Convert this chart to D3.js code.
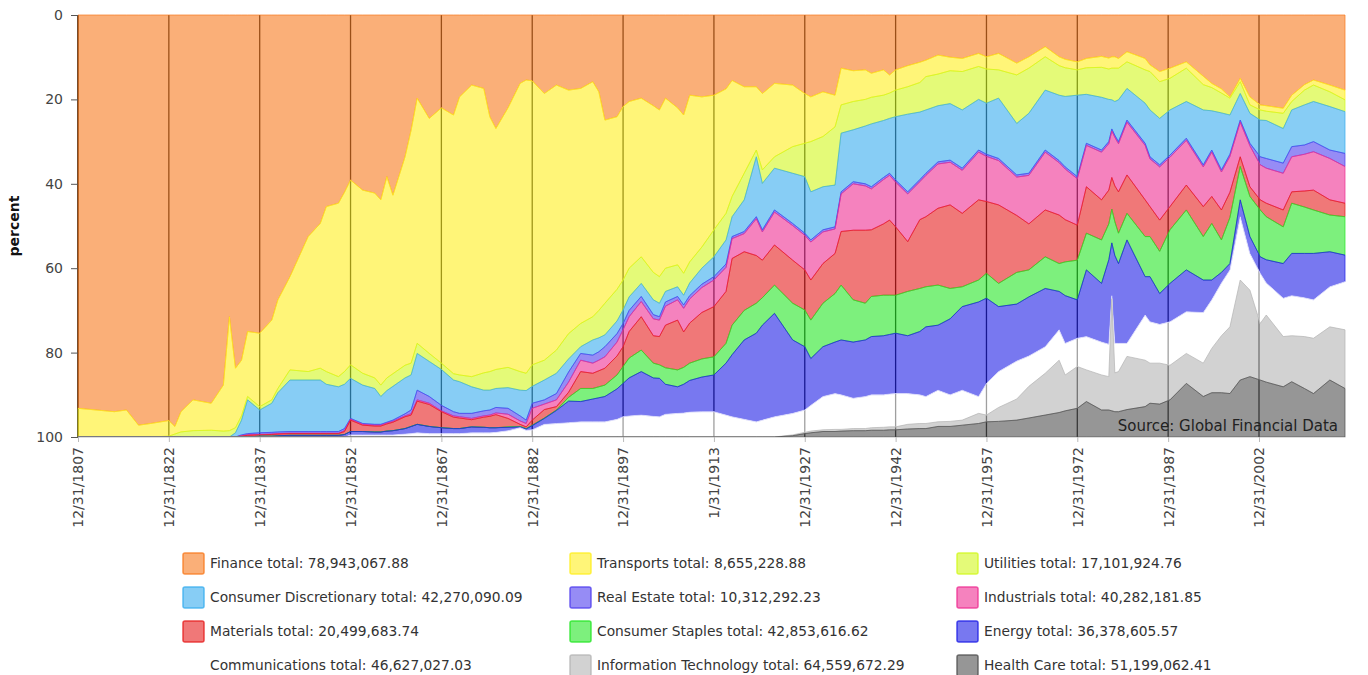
<!DOCTYPE html>
<html>
<head>
<meta charset="utf-8">
<script src="https://cdn.jsdelivr.net/npm/d3@7"></script>
<style>
  body { margin: 0; background: #fff; }
  svg { display: block; font-family: Verdana, "DejaVu Sans", sans-serif; }
</style>
</head>
<body>
<div id="chart"></div>
<script>
// --- data: share of each sector (percent) ---
const years = [1807,1810,1813,1815,1817,1819,1822,1823,1824,1826,
  1829,1831,1832,1833,1834,1835,1837,1839,1840,1842,
  1845,1847,1848,1850,1851,1852,1854,1856,1857,1858,
  1859,1861,1862,1863,1865,1867,1869,1870,1872,1874,
  1875,1876,1878,1880,1881,1882,1884,1886,1888,1890,
  1892,1893,1894,1896,1897,1898,1900,1902,1903,1904,
  1906,1907,1908,1910,1912,1914,1915,1917,1919,1920,
  1922,1925,1927,1928,1930,1932,1933,1935,1937,1938,
  1940,1941,1942,1944,1946,1947,1949,1951,1953,1955.7,
  1957,1959,1962,1964,1966.7,1969,1970,1972,1973.5,1976,
  1977.2,1977.7,1978.2,1978.8,1980.2,1983.2,1984,1985.6,1987.3,1990,
  1992.8,1994.2,1995.8,1997.2,1998.9,2000.5,2002.2,2003.2,2006,2007.4,
  2009.5,2011,2013.7,2016.2];

const finance = [93.2,93.6,94,93.6,97.2,96.8,96.1,97.5,94,91.2,
  92,87.7,71.5,83.7,81.8,75,75.4,72.3,67.5,62,
  52.5,49.4,45.4,44.6,42,39.1,41.5,42.2,43.8,38.3,
  42.7,33.6,27.3,19.7,24.5,22,23.7,19.4,16.6,17.4,
  24.1,26.9,22,16.2,15.4,15.6,18.6,16.6,17.8,17.4,
  15.8,18.2,24.9,24.1,21.7,20.5,19.7,21.5,22.5,19.7,
  22,23.7,19,19.4,19,17.5,15.5,17,17,18.6,
  16.2,16.6,18.6,19.4,18.2,19,12.6,13.2,13,13.8,
  13,14.2,13,12,11.2,10.7,9.5,10,10.3,9.1,
  9.9,9.1,11.4,9.9,7.5,9.9,10.5,11.1,10.3,9.8,
  10.2,9.9,9.9,10.3,8.7,10.3,11.8,13.4,12.6,11.1,
  14.5,16.2,17.5,19.4,15,19.4,21.3,21.5,22.1,19,
  16.5,15.4,16.6,17.8];

const transports = [6.8,6.4,6,6.4,2.8,3.2,3.7,1.8,4.8,7.3,
  6.4,10.9,27,14.1,13.2,15.4,17.4,18.9,21,22.1,
  32,34.3,39.1,41.1,42.5,43.8,43.4,43.8,43.9,47.7,
  42.3,49.4,55.2,58.1,55.7,60.5,61.3,65.9,69.1,67.4,
  60.4,57.1,61.5,68.3,69.5,67.3,63.2,62.8,57.7,55.7,
  55.7,51.8,43.4,40.9,41.1,39.5,37.6,39.5,39.5,40.3,
  37.2,37.5,39.5,35.6,31.9,29.5,27.5,20.5,15,18.1,
  17.4,14.6,11.8,10.6,10.6,7.5,8.7,7.3,7,5.7,
  6,4.3,4.8,5,4.8,3.9,4.5,3.2,3.1,3.1,
  2.9,3.9,2.8,2.7,2.4,2.1,2,1.9,2.2,2.6,
  2.6,2.7,2.7,2.3,2.4,2.7,1.6,2.4,2.4,1.5,
  2,1,1,0.3,0.8,1.9,1.2,1.3,1.2,1.5,
  1.3,1.2,1.6,2.3];

const utilities = [0,0,0,0,0,0,0.2,0.7,1.2,1.5,
  1.6,1.4,1.5,1.2,1,0.8,0.8,0.8,1,2.4,
  2,2.8,3,2.4,3,3.2,2.8,2.5,2.7,3,
  3,3,2.8,2.4,1.9,1.5,1.5,1.6,2.4,4.1,
  4.4,4.5,4.8,4.4,4.1,5.1,4.7,5.5,6,5.5,
  5.5,6.5,7.5,7.5,7.1,6.8,6.3,6.5,6.3,5.5,
  5.2,5.2,5,5,6.4,6.3,4.8,6.3,1.6,3.2,
  2.7,6.3,7.9,11.9,11.9,13.8,6.7,6.7,6.3,6.3,
  6,6,6.3,6.5,7,7.9,7.5,7.8,9.1,7.8,
  8.1,6.7,11.5,10.7,7.9,7,6.8,6,6.3,7.1,
  7.2,7.5,7.9,7.5,6.3,7.9,9.1,8.7,7.5,7.9,
  6,5.5,4.7,4,2.8,2,2.4,2.2,3.6,2,
  3.5,3.9,3.5,2.8];

const consumerDiscretionary = [0,0,0,0,0,0,0,0,0,0,
  0,0,0,1,3.5,8,5.4,6.9,9.3,12.2,
  12.2,12.2,11.2,10.6,10.5,9.5,9.1,8.5,6.6,7.5,
  8,8.5,8.3,8.7,8.3,8.5,7.5,7.5,6.3,4.9,
  4.7,4.5,4.9,6.1,7,4,4.7,4.8,3.1,1.6,
  3.6,3.3,2.8,3,3.2,3.2,3.1,3.5,3.2,2.5,
  2.3,2.3,3,3.8,4.7,5.7,4.7,7.5,14.2,11,
  9.9,11.9,13.4,11.4,10.2,9.9,13.9,12.3,13.7,14.9,
  13.5,13,15,18.4,16,15,13.3,13.4,13.8,12,
  12.1,14.3,12.2,14.2,14.2,15.5,16.7,19.3,11.6,12.5,
  10,6.9,8,9.9,7.5,9.5,11.1,11,10.7,8.7,
  13,9.3,13.5,9.3,6.3,7.1,8.7,9,8.2,8.7,
  9.5,9.5,10.3,9.9];

const realEstate = [0,0,0,0,0,0,0,0,0,0,
  0,0,0,0,0.2,0.3,0.4,0.4,0.4,0.4,
  0.4,0.4,0.4,0.4,0.5,0.2,0.2,0.2,0.2,0.2,
  0.3,0.5,0.9,2.3,1.6,1.3,1,0.8,1.2,1.2,
  1.2,1.3,1.4,1.2,0.8,1.2,1,1.5,2.4,1.6,
  1.9,2,2.4,2,1.5,1.5,1.2,1,0.8,1,
  0.8,0.8,0.8,0.8,0.8,0.8,0.5,0.5,0.5,0.5,
  0.5,0.5,0.5,0.5,0.5,0.5,0.5,0.5,0.5,0.5,
  0.5,0.5,0.5,0.5,0.5,0.5,0.5,0.5,0.5,0.5,
  0.5,0.5,0.5,0.5,0.5,0.5,0.5,0.5,0.5,0.5,
  0.5,0.5,0.5,0.5,0.5,0.5,0.5,0.5,0.5,0.5,
  0.5,0.5,0.5,0.5,0.5,0.6,1.9,2.3,2.4,2.4,
  2.2,2.4,2,3.1];

const industrials = [0,0,0,0,0,0,0,0,0,0,
  0,0,0,0,0.1,0.1,0.1,0.1,0.1,0.1,
  0.1,0.1,0.1,0.1,0.2,0.2,0.2,0.2,0.2,0.2,
  0.2,0.2,0.3,0.3,0.3,0.2,0.3,0.3,0.3,0.3,
  0.3,0.4,1,0.8,0.8,2.8,1.3,1.6,2.4,2.7,
  2.4,2.5,2.7,3.3,4,3.5,3.6,4,3.9,4.5,
  4.8,5.6,5.7,5.9,6.3,5.7,4.7,4.3,8.7,6.7,
  7.8,8.2,8.2,9,7.5,5.8,8.9,11,10.5,9.7,
  10.5,10.6,10.6,11.3,9,9.8,10.5,10.1,10.2,11.3,
  10.7,10.5,9.1,11.5,13.7,12.4,12,11,9.8,11.3,
  11,11,11.5,11.4,12.5,12.9,11.3,12.6,11.7,10.6,
  9.4,10.5,9,8.5,8.2,9.7,8.3,8.3,8.7,8.3,
  8.7,9.1,9.8,8.7];

const materials = [0,0,0,0,0,0,0,0,0,0,
  0,0,0,0,0.2,0.4,0.3,0.4,0.4,0.4,
  0.4,0.4,0.4,0.4,0.7,2.7,1.5,1.4,1.4,1.7,
  2,2.8,2.7,5.5,5.2,3.8,2.7,2.5,1.7,2.4,
  2.7,3.1,2,0.5,0.4,1.2,2,0.8,1.2,4,
  3.6,3.8,4,4.5,4.7,6.3,7.9,6.5,6.7,10.1,
  11.8,8.4,9.5,11,11.9,12.3,15.8,13.9,11.3,8.9,
  9.5,10.2,9.5,9.5,9.4,9.5,12.7,16.5,17.3,15.8,
  16.9,17.8,16.2,11.8,16.3,16.6,18.2,19.8,17.4,19,
  17,18.6,13.5,10.9,11.1,11.5,10,8.3,11,9.5,
  8,7.5,8.5,9.8,9.1,8.7,7.1,7.4,5.5,5.9,
  7.1,6.4,7.1,6,2.3,2.3,2.4,3.2,4,2.7,
  3.8,4.7,3.6,3.2];

const consumerStaples = [0,0,0,0,0,0,0,0,0,0,
  0,0,0,0,0,0,0,0,0,0,
  0,0,0,0,0,0,0,0,0,0,
  0,0,0,0,0,0,0,0,0,0,
  0,0,0.1,0.1,0.1,0.1,0.1,0.1,0.9,3.1,
  2.5,2.6,2.7,3.3,4,4.7,5.1,3.5,3.2,3.9,
  4,4,4.1,4.3,4.3,4.7,7,7,7.1,6.5,
  6.7,8.7,8.7,9.1,10.3,11.5,13,10,8.7,9.5,
  9.6,9.3,9,10.5,10.2,9.5,9.5,7.2,4.7,5.2,
  5.9,5.5,7.5,6.4,7.5,6.6,8,9.4,8.7,10.3,
  8.5,8,8,7.2,6.3,9.5,9.5,10,12.7,14.2,
  10.3,13.4,7.7,10.9,7.9,9.5,11.1,10.2,8.7,11.9,
  11,10.3,8.7,9.1];

const energy = [0,0,0,0,0,0,0,0,0,0,
  0,0,0,0,0,0,0.2,0.2,0.3,0.4,
  0.4,0.4,0.4,0.4,0.6,0.8,0.8,0.7,0.7,0.9,
  1,1.3,1.7,2,1.7,1.4,1.2,1.2,1.4,1.3,
  1.2,1.1,0.8,0.2,0.3,1,1.4,3.1,5.1,4.8,
  5.4,5.7,6,7.2,7.9,9,10.3,9.1,9.1,7.1,
  6.3,6.8,7.5,8.2,8.7,12.3,14.7,18.8,21,22.5,
  24.5,17.4,15,11.1,11.8,12.2,13,13.3,13.4,13.8,
  14,14.1,14.3,13.7,15,16.5,15.4,18,19.8,22.4,
  20.2,15.4,13.5,14,13.8,9.1,11.3,9.1,15.8,13.9,
  20,12.5,20.8,18.9,24.5,9.1,10.7,7.3,9.1,9.9,
  7.7,4.7,2.5,1.5,4,4,3.9,5.5,8.2,10,
  10.5,11,8.3,6.3];

const communications = [0,0,0,0,0,0,0,0,0,0,
  0,0,0,0,0,0,0,0,0,0,
  0,0,0,0,0,0.5,0.5,0.5,0.5,0.5,
  0.5,0.7,0.8,1,0.8,0.8,0.8,0.8,1,1,
  1,1.1,1.5,2.2,1.6,1.7,3,3.2,3.4,3.6,
  3.6,3.6,3.6,4.2,4.8,5,5.2,4.9,4.8,5.4,
  5.6,5.7,5.9,6,6,5.2,4.8,4.2,3.6,4,
  4.8,5.1,5.3,6.1,7.9,8.5,8.2,7.2,7.6,7.8,
  7.7,7.8,7.9,7.3,6.8,6.4,7.5,6.3,7.1,4,
  7.5,8.5,9,7.2,6.3,7.2,7.5,6.7,7.9,7.8,
  7.7,0.7,7,6.7,3.1,10.7,9.8,9.2,10.3,9.9,
  12,11.5,12.5,13.5,15,8.7,11.9,7.6,9.1,9.5,
  9.2,9.1,9.5,11.4];

const informationTechnology = [0,0,0,0,0,0,0,0,0,0,
  0,0,0,0,0,0,0,0,0,0,
  0,0,0,0,0,0,0,0,0,0,
  0,0,0,0,0,0,0,0,0,0,
  0,0,0,0,0,0,0,0,0,0,
  0,0,0,0,0,0,0,0,0,0,
  0,0,0,0,0,0,0,0,0,0,
  0,0.2,0.3,0.4,0.4,0.5,0.4,0.5,0.5,0.6,
  0.7,0.7,0.7,1.1,1.2,1.2,1.1,1.2,1.2,2.4,
  1.6,3.3,5,7.5,9.9,12.4,8.5,9.9,7.5,8.3,
  7.9,26.6,9.2,9.5,12.6,11,9.5,9.7,8.2,7.1,
  7.9,10.5,13.5,15.8,23.7,20.5,13.4,15.9,11.9,10.9,
  12.3,13.1,12.6,13.9];

const healthCare = [0,0,0,0,0,0,0,0,0,0,
  0,0,0,0,0,0,0,0,0,0,
  0,0,0,0,0,0,0,0,0,0,
  0,0,0,0,0,0,0,0,0,0,
  0,0,0,0,0,0,0,0,0,0,
  0,0,0,0,0,0,0,0,0,0,
  0,0,0,0,0,0,0,0,0,0,
  0,0.3,0.8,1,1.3,1.3,1.4,1.5,1.5,1.6,
  1.6,1.7,1.7,1.9,2,2,2.5,2.5,2.8,3.2,
  3.6,3.7,4,4.5,5.2,5.8,6.2,6.8,8.4,6.4,
  6.4,6.2,6,6,6.5,7.2,8,7.8,8.8,12.7,
  9.6,10.5,10.5,10.3,13.5,14.3,13.5,13,11.9,13.1,
  11.5,10.3,13.5,11.5];

// sector names (top of the stack first) and their legend totals
const sectorNames = ["Finance", "Transports", "Utilities", "Consumer Discretionary",
  "Real Estate", "Industrials", "Materials", "Consumer Staples", "Energy",
  "Communications", "Information Technology", "Health Care"];
const sectorTotals = ["78,943,067.88", "8,655,228.88", "17,101,924.76", "42,270,090.09",
  "10,312,292.23", "40,282,181.85", "20,499,683.74", "42,853,616.62", "36,378,605.57",
  "46,627,027.03", "64,559,672.29", "51,199,062.41"];
const sectorValues = [finance, transports, utilities, consumerDiscretionary,
  realEstate, industrials, materials, consumerStaples, energy,
  communications, informationTechnology, healthCare];

// x ticks: positions (year) and the labels shown under them
const tickYears = [1807, 1822, 1837, 1852, 1867, 1882, 1897, 1912, 1927, 1942, 1957, 1972, 1987, 2002];
const tickLabels = ["12/31/1807", "12/31/1822", "12/31/1837", "12/31/1852", "12/31/1867",
  "12/31/1882", "12/31/1897", "1/31/1913", "12/31/1927", "12/31/1942", "12/31/1957",
  "12/31/1972", "12/31/1987", "12/31/2002"];
const yTicks = [0, 20, 40, 60, 80, 100];

// --- styles ---
const COLORS = ["#f7791e", "#ffee1e", "#d2f71e", "#37acee", "#503fee", "#ee2f93",
  "#e61e1e", "#26e626", "#1e1ee6", "#ffffff", "#b4b4b4", "#505050"];
const FILL_OPACITY = 0.6;
const FONT = 'Verdana, "DejaVu Sans", sans-serif';

const width = 1368, height = 675;
const margin = { top: 15, right: 23, bottom: 238, left: 78 };

const svg = d3.select("#chart").append("svg")
  .attr("width", width).attr("height", height);

const x = d3.scaleLinear().domain([1807, 2016.2]).range([margin.left, width - margin.right]);
const y = d3.scaleLinear().domain([0, 100]).range([margin.top, height - margin.bottom]);

// rows for d3.stack
const keys = sectorNames.map((n, i) => "s" + i);
const rows = years.map((yr, i) => {
  const r = { year: yr };
  keys.forEach((k, j) => r[k] = sectorValues[j][i]);
  return r;
});
const layers = d3.stack().keys(keys)(rows);

// vertical grid lines (behind the translucent areas)
svg.append("g").selectAll("line").data(tickYears).join("line")
  .attr("x1", d => x(d)).attr("x2", d => x(d))
  .attr("y1", y(0)).attr("y2", y(100))
  .attr("stroke", "#111").attr("stroke-width", 1.3);

// y axis line
svg.append("line")
  .attr("x1", margin.left).attr("x2", margin.left)
  .attr("y1", y(0)).attr("y2", y(100))
  .attr("stroke", "#222").attr("stroke-width", 1.5);

const area = d3.area()
  .x(d => x(d.data.year))
  .y0(d => y(d[0]))
  .y1(d => y(d[1]));

svg.append("g").selectAll("path").data(layers).join("path")
  .attr("d", area)
  .attr("fill", (d, i) => COLORS[i])
  .attr("fill-opacity", FILL_OPACITY)
  .attr("stroke", (d, i) => COLORS[i])
  .attr("stroke-opacity", 0.7)
  .attr("stroke-width", 1);

// y axis ticks and labels
const yAxis = svg.append("g")
  .attr("transform", `translate(${margin.left},0)`)
  .call(d3.axisLeft(y).tickValues(yTicks).tickSize(7).tickSizeOuter(0).tickPadding(8));
yAxis.select(".domain").remove();
yAxis.selectAll(".tick line").attr("stroke", "#555");
yAxis.selectAll(".tick text").attr("fill", "#444").style("font-size", "14px")
  .style("font-family", FONT);

svg.append("text")
  .attr("transform", `translate(19,${(y(0) + y(100)) / 2}) rotate(-90)`)
  .attr("text-anchor", "middle")
  .attr("fill", "#111")
  .style("font-size", "14px").style("font-weight", "bold")
  .text("percent");

// x axis with rotated date labels
const xAxis = svg.append("g")
  .attr("transform", `translate(0,${y(100)})`)
  .call(d3.axisBottom(x).tickValues(tickYears).tickFormat((d, i) => tickLabels[i])
    .tickSize(5).tickSizeOuter(0));
xAxis.select(".domain").attr("stroke", "#ddd");
xAxis.selectAll(".tick line").attr("stroke", "#bbb");
xAxis.selectAll(".tick text")
  .attr("transform", "rotate(-90)")
  .attr("text-anchor", "end")
  .attr("x", -10).attr("y", 0).attr("dy", "0.35em")
  .attr("fill", "#444")
  .style("font-size", "14px")
  .style("font-family", FONT);

// source note
svg.append("text")
  .attr("x", 1338).attr("y", 431)
  .attr("text-anchor", "end")
  .attr("fill", "#222")
  .style("font-size", "15px")
  .text("Source: Global Financial Data");

// legend: 3 columns x 4 rows
const legendCols = [183, 570, 957];
const legendRowY = [563, 597, 631, 665];
const legend = svg.append("g").selectAll("g").data(sectorNames).join("g")
  .attr("transform", (d, i) => `translate(${legendCols[i % 3]},${legendRowY[Math.floor(i / 3)]})`);
legend.append("rect")
  .attr("x", 0).attr("y", -10).attr("width", 21).attr("height", 21).attr("rx", 2)
  .attr("fill", (d, i) => COLORS[i]).attr("fill-opacity", FILL_OPACITY)
  .attr("stroke", (d, i) => COLORS[i]).attr("stroke-opacity", 0.8).attr("stroke-width", 1.5);
legend.append("text")
  .attr("x", 27).attr("y", 5)
  .attr("fill", "#333")
  .style("font-size", "13.8px")
  .text((d, i) => `${d} total: ${sectorTotals[i]}`);
</script>
</body>
</html>
